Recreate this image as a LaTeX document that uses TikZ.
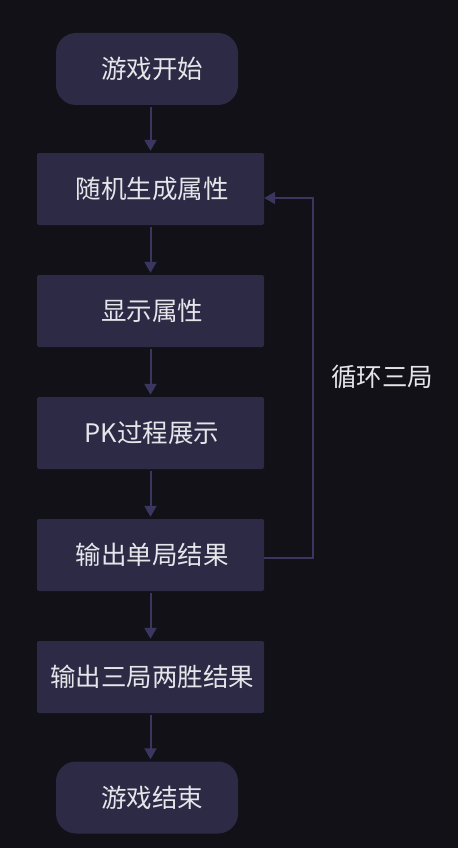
\documentclass[tikz,border=0pt]{standalone}
\usepackage{fontspec}
\newfontfamily\cjk{Noto Sans CJK SC}
\usetikzlibrary{arrows.meta}
\definecolor{bg}{HTML}{121117}
\definecolor{boxfill}{HTML}{2D2A45}
\definecolor{linec}{HTML}{3A3660}
\definecolor{txt}{HTML}{E6E6EA}
\begin{document}
\begin{tikzpicture}[x=1pt,y=-1pt,
  every node/.style={font=\cjk\fontsize{25.5}{28}\selectfont, text=txt},
  procbox/.style={fill=boxfill, rounded corners=2pt, minimum width=227pt, minimum height=72pt, inner sep=0pt},
  termbox/.style={fill=boxfill, rounded corners=20pt, minimum width=182pt, minimum height=72pt, inner sep=0pt},
  flow/.style={draw=linec, line width=2pt, -{Triangle[width=12pt,length=11pt]}, shorten <=2pt, shorten >=2pt}]
\fill[bg] (0,0) rectangle (458,848);
\useasboundingbox (0,0) rectangle (458,848);
\node[termbox] (start) at (147,69) {\hspace*{10pt}游戏开始};
\node[procbox] (b1) at (150.5,189) {\hspace*{3pt}随机生成属性};
\node[procbox] (b2) at (150.5,311) {\hspace*{3pt}显示属性};
\node[procbox] (b3) at (150.5,433) {\hspace*{3pt}PK过程展示};
\node[procbox] (b4) at (150.5,555) {\hspace*{3pt}输出单局结果};
\node[procbox] (b5) at (150.5,677) {\hspace*{3pt}输出三局两胜结果};
\node[termbox] (end) at (147,797.5) {\hspace*{10pt}游戏结束};
\draw[flow] (start.south -| b1.center) -- (b1.north);
\draw[flow] (b1) -- (b2);
\draw[flow] (b2) -- (b3);
\draw[flow] (b3) -- (b4);
\draw[flow] (b4) -- (b5);
\draw[flow] (b5.south) -- (end.north -| b5.center);
\coordinate (lb) at (313,558);
\coordinate (lt) at (313,198);
\draw[draw=linec, line width=2pt, -{Triangle[width=12pt,length=11pt]}] ([yshift=-3pt]b4.east) -- (lb) -- (lt) -- ([yshift=-9pt]b1.east);
\node (lbl) at (382,377) {循环三局};
\end{tikzpicture}
\end{document}
